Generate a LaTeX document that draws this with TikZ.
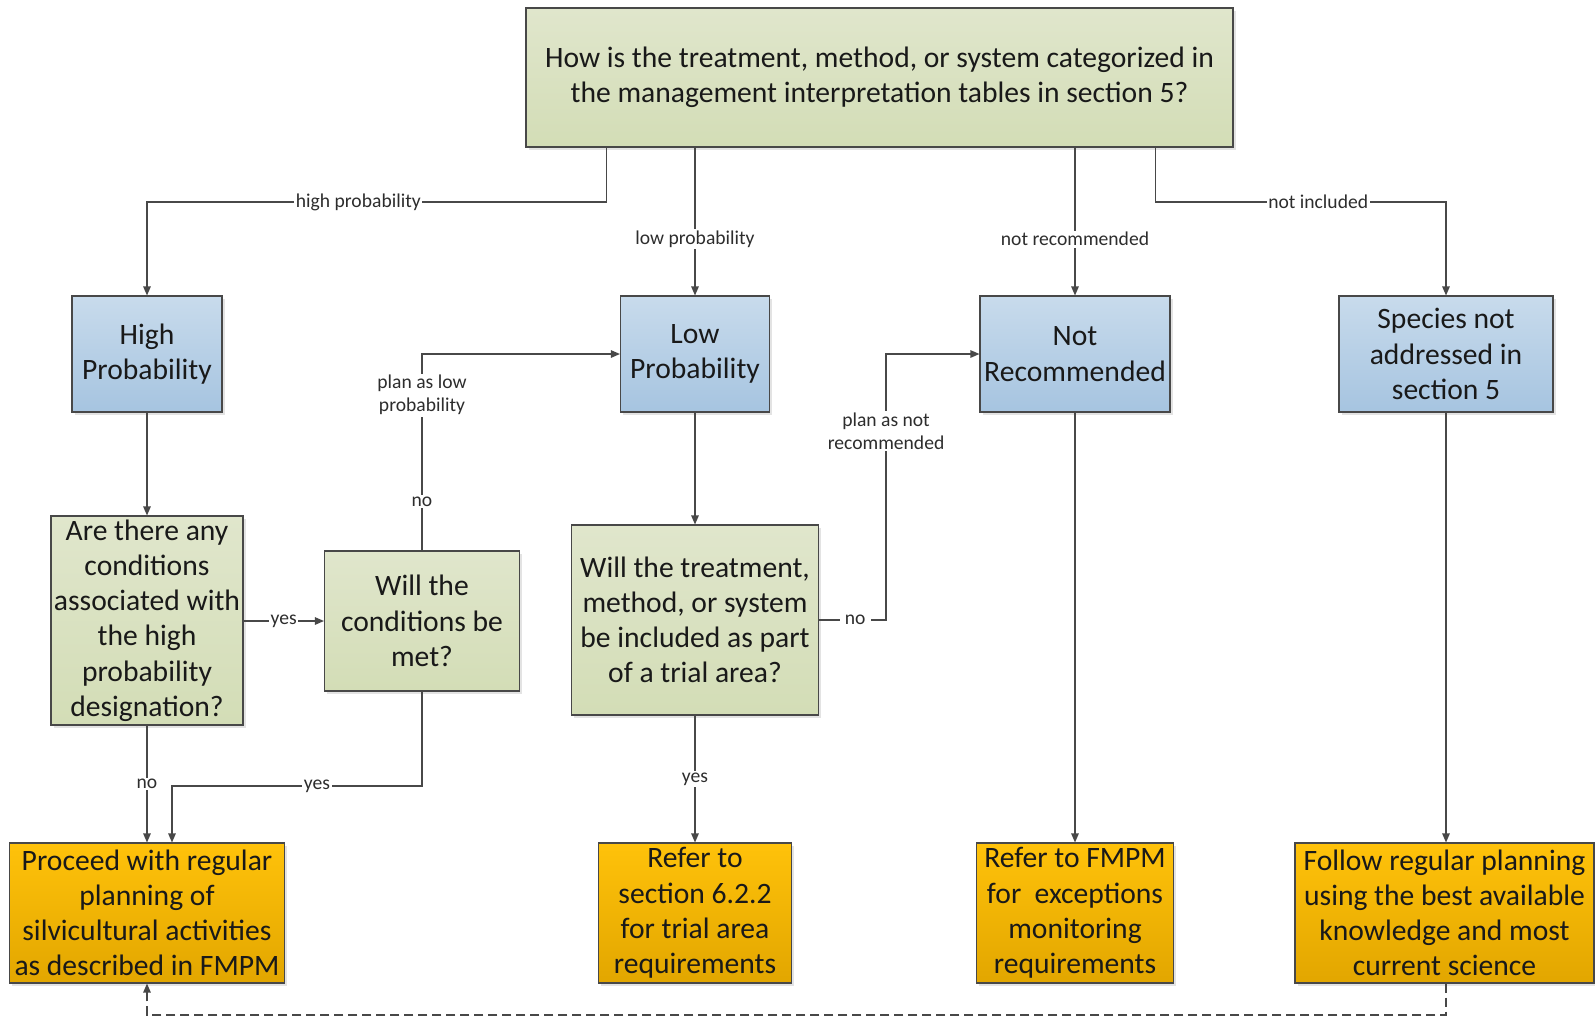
\documentclass[tikz,border=0pt]{standalone}
\usepackage{fontspec}
\setmainfont{Carlito}
\usetikzlibrary{arrows.meta,shadows,calc}

\definecolor{linec}{RGB}{72,72,72}
\definecolor{txtc}{RGB}{25,25,25}
\definecolor{lblc}{RGB}{45,45,45}
\definecolor{gtop}{RGB}{224,230,204}
\definecolor{gbot}{RGB}{211,221,182}
\definecolor{btop}{RGB}{200,219,236}
\definecolor{bbot}{RGB}{166,196,224}
\definecolor{otop}{RGB}{255,194,10}
\definecolor{obot}{RGB}{226,166,0}

\newcommand\bxfont{\fontsize{29.6}{35.2}\selectfont}
\newcommand\lbfont{\fontsize{19.6}{23}\selectfont}

\begin{document}
\begin{tikzpicture}[x=1pt,y=-1pt,
  box/.style={draw=linec, line width=1.1pt, align=center, text=txtc,
    font=\bxfont, inner sep=0pt,
    drop shadow={shadow xshift=2.5pt, shadow yshift=-2.5pt, opacity=0.22}},
  gbox/.style={box, top color=gtop, bottom color=gbot},
  bbox/.style={box, top color=btop, bottom color=bbot},
  obox/.style={box, top color=otop, bottom color=obot},
  arr/.style={draw=linec, line width=1.2pt, -{Triangle[length=9pt,width=7.5pt]}},
  lbl/.style={fill=white, text=lblc, font=\lbfont, align=center, inner sep=1.5pt},
]
\useasboundingbox (0,0) rectangle (1595,1018);

% question at the top
\node[gbox, minimum width=707pt, minimum height=139pt] (top) at (879.5,77.5)
  {How is the treatment, method, or system categorized in\\
   the management interpretation tables in section 5?};

% categories
\node[bbox, minimum width=150pt, minimum height=116pt] (hp) at (147,354)
  {High\\Probability};
\node[bbox, minimum width=149pt, minimum height=116pt] (lp) at (695,354)
  {Low\\Probability};
\node[bbox, minimum width=190pt, minimum height=116pt] (nr) at (1075,354)
  {Not\\Recommended};
\node[bbox, minimum width=214pt, minimum height=116pt] (sp) at (1446,354)
  {Species not\\addressed in\\section 5};

% decisions
\node[gbox, minimum width=192pt, minimum height=209pt] (q1) at (147,620.5)
  {Are there any\\conditions\\associated with\\the high\\probability\\designation?};
\node[gbox, minimum width=195pt, minimum height=140pt] (q2) at (422,621)
  {Will the\\conditions be\\met?};
\node[gbox, minimum width=247pt, minimum height=190pt] (q3) at (695,620)
  {Will the treatment,\\method, or system\\be included as part\\of a trial area?};

% outcomes
\node[obox, minimum width=275pt, minimum height=140pt] (o1) at (147,913)
  {Proceed with regular\\planning of\\silvicultural activities\\as described in FMPM};
\node[obox, minimum width=193pt, minimum height=140pt] (o2) at (695,913)
  {Refer to\\section 6.2.2\\for trial area\\requirements};
\node[obox, minimum width=197pt, minimum height=140pt] (o3) at (1075,913)
  {Refer to FMPM\\for\ \ exceptions\\monitoring\\requirements};
\node[obox, minimum width=299pt, minimum height=140pt] (o4) at (1444.5,913)
  {Follow regular planning\\using the best available\\knowledge and most\\current science};

% connectors from the top question
\draw[arr] ($(top.south west)+(81,0)$) -- ($(top.south west |- 0,202)+(81,0)$)
  -- node[lbl, pos=0.54] {high probability} (hp.north |- 0,202) -- (hp.north);
\draw[arr] (top.south -| lp.north) -- node[lbl, pos=0.62] {low probability} (lp.north);
\draw[arr] (top.south -| nr.north) -- node[lbl, pos=0.62] {not recommended} (nr.north);
\draw[arr] ($(top.south east)+(-78,0)$) -- ($(top.south east |- 0,202)+(-78,0)$)
  -- node[lbl, pos=0.56] {not included} (sp.north |- 0,202) -- (sp.north);

% high probability branch
\draw[arr] (hp.south) -- (q1.north);
\draw[arr] (q1.east |- q2.west) -- node[lbl] {yes} (q2.west);
\draw[arr] (q2.north) -- node[lbl, pos=0.25] {no}
  node[lbl, pos=0.79] {plan as low\\probability} (q2.north |- lp.west) -- (lp.west);
\draw[arr] (q1.south) -- node[lbl] {no} (o1.north -| q1.south);
\draw[arr] (q2.south) -- (q2.south |- 0,786)
  -- node[lbl, pos=0.42] {yes} ($(o1.north |- 0,786)+(25,0)$) -- ($(o1.north)+(25,0)$);

% low probability branch
\draw[arr] (lp.south) -- (q3.north);
\draw[arr] (q3.east) -- node[lbl, pos=0.54, inner sep=5pt] {no} ($(q3.east)+(67,0)$)
  -- node[lbl, pos=0.71] {plan as not\\recommended} ($(q3.east |- nr.west)+(67,0)$) -- (nr.west);
\draw[arr] (q3.south) -- node[lbl] {yes} (o2.north);

% remaining columns
\draw[arr] (nr.south) -- (o3.north);
\draw[arr] (sp.south) -- (o4.north -| sp.south);

% return path
\draw[arr, dashed, dash pattern=on 9pt off 5pt] (o4.south -| sp.south) -- (sp.south |- 0,1015)
  -- (o1.south |- 0,1015) -- (o1.south);
\end{tikzpicture}
\end{document}
